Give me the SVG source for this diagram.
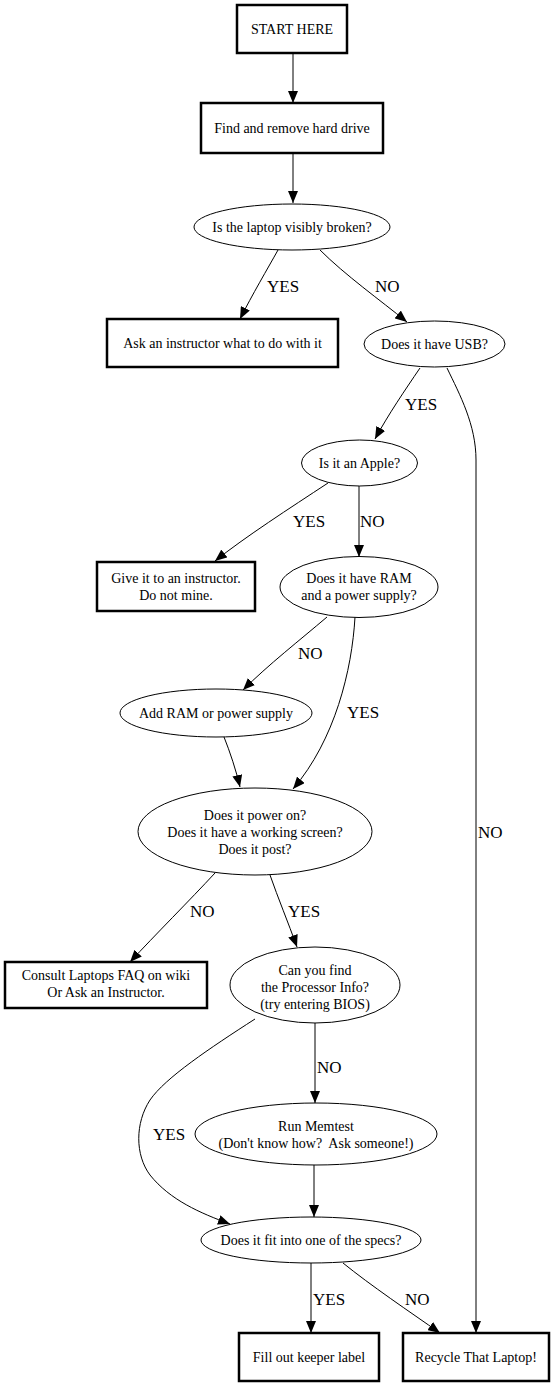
<svg xmlns="http://www.w3.org/2000/svg" width="555" height="1387" viewBox="0 0 555 1387">
<style>
.box{fill:#fff;stroke:#000;stroke-width:2.5}
.ell{fill:#fff;stroke:#000;stroke-width:1}
.t{font-family:"Liberation Serif","Times New Roman",serif;font-size:14px;text-anchor:middle;fill:#000}
.lbl{font-family:"Liberation Serif","Times New Roman",serif;font-size:17px;fill:#000}
.e{fill:none;stroke:#000;stroke-width:1;marker-end:url(#ah)}
</style>
<defs>
<marker id="ah" viewBox="0 0 12 10" refX="12" refY="5" markerWidth="12" markerHeight="10" markerUnits="userSpaceOnUse" orient="auto">
<path d="M0,0 L12,5 L0,10 z" fill="#000"/>
</marker>
</defs>
<rect width="555" height="1387" fill="#fff"/>
<g id="edges">
<path class="e" d="M293,53 L293,103"/>
<path class="e" d="M293,153 L293,203"/>
<path class="e" d="M278,250 C268,268 252,295 240,319"/>
<path class="e" d="M320,250 C345,275 380,300 407,322"/>
<path class="e" d="M420,368 C405,390 388,415 375,439"/>
<path class="e" d="M447,368 C460,395 476,425 476,460 L476,1333"/>
<path class="e" d="M328,483 C290,508 245,537 215,561"/>
<path class="e" d="M359,486 L359,557"/>
<path class="e" d="M327,617 C300,640 268,665 243,690"/>
<path class="e" d="M355,617 C352,670 335,740 293,789"/>
<path class="e" d="M224,737 C230,752 236,770 240,787"/>
<path class="e" d="M215,873 C190,900 155,935 130,962"/>
<path class="e" d="M270,875 C278,898 288,922 297,947"/>
<path class="e" d="M315,1023 L315,1103"/>
<path class="e" d="M255,1019 C210,1048 165,1078 150,1100 C135,1123 135,1155 150,1175 C170,1200 200,1213 230,1224"/>
<path class="e" d="M314,1165 L314,1217"/>
<path class="e" d="M311,1263 L311,1333"/>
<path class="e" d="M343,1263 C370,1285 410,1312 440,1333"/>
<text class="lbl" x="267" y="292">YES</text>
<text class="lbl" x="375" y="292">NO</text>
<text class="lbl" x="405" y="410">YES</text>
<text class="lbl" x="293" y="527">YES</text>
<text class="lbl" x="360" y="527">NO</text>
<text class="lbl" x="298" y="659">NO</text>
<text class="lbl" x="347" y="718">YES</text>
<text class="lbl" x="478" y="838">NO</text>
<text class="lbl" x="190" y="917">NO</text>
<text class="lbl" x="288" y="917">YES</text>
<text class="lbl" x="317" y="1073">NO</text>
<text class="lbl" x="153" y="1140">YES</text>
<text class="lbl" x="313" y="1305">YES</text>
<text class="lbl" x="405" y="1305">NO</text>
</g>
<g id="start"><rect class="box" x="237" y="5" width="110" height="48"/><text class="t" x="292" y="34">START HERE</text></g>
<g id="find"><rect class="box" x="201" y="103" width="182" height="50"/><text class="t" x="292" y="133">Find and remove hard drive</text></g>
<g id="broken"><ellipse class="ell" cx="292" cy="227" rx="98" ry="23"/><text class="t" x="292" y="232">Is the laptop visibly broken?</text></g>
<g id="ask"><rect class="box" x="107" y="319" width="231" height="48"/><text class="t" x="222.5" y="348">Ask an instructor what to do with it</text></g>
<g id="usb"><ellipse class="ell" cx="434.5" cy="344" rx="70.5" ry="23"/><text class="t" x="434.5" y="349">Does it have USB?</text></g>
<g id="apple"><ellipse class="ell" cx="359.5" cy="463" rx="58" ry="23"/><text class="t" x="359.5" y="468">Is it an Apple?</text></g>
<g id="give"><rect class="box" x="97" y="562" width="158" height="49"/><text class="t" x="176" y="583">Give it to an instructor.</text><text class="t" x="176" y="600">Do not mine.</text></g>
<g id="ram"><ellipse class="ell" cx="359" cy="587" rx="79" ry="30.5"/><text class="t" x="359" y="583">Does it have RAM</text><text class="t" x="359" y="600">and a power supply?</text></g>
<g id="add"><ellipse class="ell" cx="216" cy="713" rx="96" ry="24"/><text class="t" x="216" y="718">Add RAM or power supply</text></g>
<g id="power"><ellipse class="ell" cx="255" cy="831.5" rx="117" ry="43.5"/><text class="t" x="255" y="819.5">Does it power on?</text><text class="t" x="255" y="836.5">Does it have a working screen?</text><text class="t" x="255" y="853.5">Does it post?</text></g>
<g id="consult"><rect class="box" x="5" y="962" width="202" height="46"/><text class="t" x="106" y="980">Consult Laptops FAQ on wiki</text><text class="t" x="106" y="997">Or Ask an Instructor.</text></g>
<g id="cpu"><ellipse class="ell" cx="315" cy="985" rx="85" ry="38"/><text class="t" x="315" y="975">Can you find</text><text class="t" x="315" y="992">the Processor Info?</text><text class="t" x="315" y="1009">(try entering BIOS)</text></g>
<g id="memtest"><ellipse class="ell" cx="316" cy="1134" rx="121" ry="31"/><text class="t" x="316" y="1131">Run Memtest</text><text class="t" x="316" y="1148" xml:space="preserve">(Don't know how?  Ask someone!)</text></g>
<g id="spec"><ellipse class="ell" cx="311" cy="1240" rx="110" ry="23"/><text class="t" x="311" y="1245">Does it fit into one of the specs?</text></g>
<g id="fill"><rect class="box" x="239" y="1333" width="140" height="48"/><text class="t" x="309" y="1362">Fill out keeper label</text></g>
<g id="recycle"><rect class="box" x="403" y="1333" width="146" height="48"/><text class="t" x="476" y="1362">Recycle That Laptop!</text></g>
</svg>
